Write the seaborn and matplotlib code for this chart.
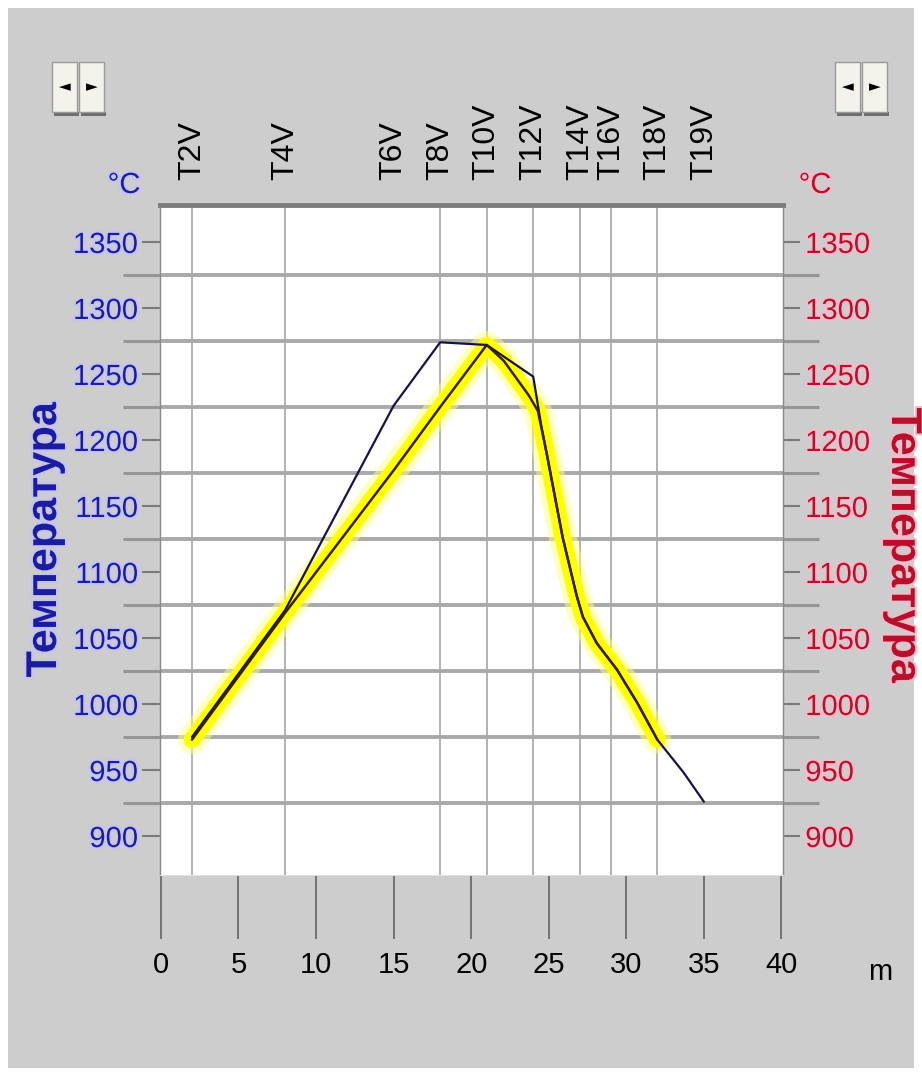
import numpy as np
import pandas as pd
import matplotlib.pyplot as plt
import matplotlib.ticker as mticker
import matplotlib.patheffects as pe
from matplotlib.patches import Rectangle
import seaborn as sns

# Furnace temperature profile (distance in m, temperature in degC)
sensor_pos = [2, 8, 15, 18, 21, 24, 27, 29, 32, 35]
sensor_labels = ['T2V', 'T4V', 'T6V', 'T8V', 'T10V', 'T12V', 'T14V', 'T16V', 'T18V', 'T19V']

actual_dist = [2, 8, 15, 18, 21, 24, 24.5, 25.1, 25.9, 26.8, 27.2, 28.1, 29.4, 30.7, 32, 33.7, 35]
actual_temp = [975, 1071, 1226, 1274, 1272, 1248, 1212, 1175, 1126, 1082, 1066, 1046, 1026, 1001, 973, 948, 926]

setpoint_dist = [2, 8, 15, 18, 21, 22.1, 23.7, 24.3, 24.9, 25.9, 26.8, 27.2, 28.1, 29.4, 30.7, 32]
setpoint_temp = [973, 1069, 1177, 1225, 1272, 1260, 1234, 1222, 1188, 1126, 1082, 1066, 1046, 1026, 1001, 973]

x_ticks = [0, 5, 10, 15, 20, 25, 30, 35, 40]
y_ticks = [900, 950, 1000, 1050, 1100, 1150, 1200, 1250, 1300, 1350]
y_grid = [925, 975, 1025, 1075, 1125, 1175, 1225, 1275, 1325]

sns.set_style("white")
plt.rcParams['font.family'] = ['Liberation Sans', 'DejaVu Sans']

W, H = 922, 1076
fig = plt.figure(figsize=(W / 100, H / 100), dpi=100, facecolor='white')

def px(x, y):
    # pixel position (from top-left) -> figure fraction
    return x / W, 1 - y / H

# grey window background
fig.add_artist(Rectangle(px(8, 1068), (914 - 8) / W, (1068 - 8) / H,
                         transform=fig.transFigure, facecolor='#cdcdcd', edgecolor='none', zorder=0))

# little scroll buttons in both top corners
for bx in [52, 835]:
    for k, arrow in enumerate(['◄', '►']):
        x0 = bx + k * 27
        fig.add_artist(Rectangle(px(x0 + 2, 116), 25 / W, 4 / H, transform=fig.transFigure,
                                 facecolor='#6e6e6e', edgecolor='none', zorder=1))
        fig.add_artist(Rectangle(px(x0, 112), 25 / W, 50 / H, transform=fig.transFigure,
                                 facecolor='#f3f3ec', edgecolor='#9a9a9a', lw=1, zorder=2))
        fig.text(*px(x0 + 12.5, 87), arrow, fontsize=11, ha='center', va='center',
                 family=['DejaVu Sans'], color='black', zorder=3)

left, right, top, bottom = 160, 783, 205, 875
ax = fig.add_axes([left / W, 1 - bottom / H, (right - left) / W, (bottom - top) / H])
ax.set_facecolor('white')

# yellow highlighted set-point curve
sns.lineplot(x=setpoint_dist, y=setpoint_temp, ax=ax, sort=False, estimator=None,
             color='#ffff80', lw=20, alpha=0.5, solid_capstyle='round', solid_joinstyle='round')
sns.lineplot(x=setpoint_dist, y=setpoint_temp, ax=ax, sort=False, estimator=None,
             color='#ffff00', lw=12, solid_capstyle='round', solid_joinstyle='round')
# actual temperature
sns.lineplot(x=actual_dist, y=actual_temp, ax=ax, sort=False, estimator=None,
             color='#16124c', lw=1.6)
sns.lineplot(x=setpoint_dist, y=setpoint_temp, ax=ax, sort=False, estimator=None,
             color='#3a2000', lw=1.8)

ax.set_xlim(-0.06, 40.1)
ax.set_ylim(870.5, 1378)

# gridlines sit between the labelled ticks
ax.xaxis.set_major_locator(mticker.FixedLocator(x_ticks))
ax.xaxis.set_minor_locator(mticker.FixedLocator(sensor_pos))
ax.yaxis.set_major_locator(mticker.FixedLocator(y_ticks))
ax.yaxis.set_minor_locator(mticker.FixedLocator(y_grid))
ax.grid(False)
ax.grid(which='minor', axis='y', color='#a9a9a9', lw=2.8)
ax.grid(which='minor', axis='x', color='#b2b2b2', lw=1.4)
ax.set_axisbelow(True)

tick_font = dict(family=['Liberation Sans', 'DejaVu Sans'], fontsize=21)
ax.set_xticklabels([str(v) for v in x_ticks], **tick_font, color='black')
ax.tick_params(axis='x', which='major', direction='out', length=46, width=1.1,
               color='#5a5a5a', pad=9, bottom=True)
ax.tick_params(axis='x', which='minor', length=0)

blue, red = '#1c1ca0', '#b8102c'
ax.set_yticklabels([str(v) for v in y_ticks], **tick_font, color=blue)
ax.tick_params(axis='y', which='major', direction='out', length=13, width=1.5,
               color='#7a7a7a', pad=3, left=True)
ax.tick_params(axis='y', which='minor', direction='out', length=27, width=2.2,
               color='#959595', left=True)
for t in ax.get_yticklabels():
    t.set_path_effects([pe.withStroke(linewidth=3, foreground='#c4c4f2')])

for s in ['left', 'right']:
    ax.spines[s].set_color('#8a8a8a')
    ax.spines[s].set_linewidth(1)
ax.spines['bottom'].set_color('#e0e0e0')
ax.spines['top'].set_color('#7c7c7c')
ax.spines['top'].set_linewidth(3.5)

# right temperature axis
axr = ax.secondary_yaxis('right')
axr.yaxis.set_major_locator(mticker.FixedLocator(y_ticks))
axr.yaxis.set_minor_locator(mticker.FixedLocator(y_grid))
axr.set_yticklabels([str(v) for v in y_ticks], **tick_font, color=red)
axr.tick_params(axis='y', which='major', direction='out', length=12, width=1.5,
                color='#7a7a7a', pad=4)
axr.tick_params(axis='y', which='minor', direction='out', length=26, width=2.2,
                color='#959595')
axr.spines['right'].set_visible(False)
for t in axr.get_yticklabels():
    t.set_path_effects([pe.withStroke(linewidth=3, foreground='#f2bcc8')])

# sensor names on top
axt = ax.secondary_xaxis('top')
axt.xaxis.set_major_locator(mticker.FixedLocator(sensor_pos))
axt.set_xticklabels(sensor_labels, family=['Liberation Sans', 'DejaVu Sans'],
                    fontsize=23, rotation=90, color='black')
axt.tick_params(axis='x', length=0, pad=18)
axt.spines['top'].set_visible(False)

# axis titles and units
fig.text(*px(45, 540), 'Температура', rotation=90, ha='center', va='center',
         fontsize=31, fontweight='bold', color=blue,
         path_effects=[pe.withStroke(linewidth=3, foreground='#c4c4f2')])
fig.text(*px(903, 545), 'Температура', rotation=270, ha='center', va='center',
         fontsize=31, fontweight='bold', color=red,
         path_effects=[pe.withStroke(linewidth=3, foreground='#f2bcc8')])
fig.text(*px(124, 185), '°C', ha='center', va='center', fontsize=21, color=blue,
         path_effects=[pe.withStroke(linewidth=3, foreground='#c4c4f2')])
fig.text(*px(815, 185), '°C', ha='center', va='center', fontsize=21, color=red,
         path_effects=[pe.withStroke(linewidth=3, foreground='#f2bcc8')])
fig.text(*px(880, 972), 'm', ha='center', va='center', fontsize=21, color='black')

plt.savefig('out.png', dpi=100, facecolor=fig.get_facecolor())
